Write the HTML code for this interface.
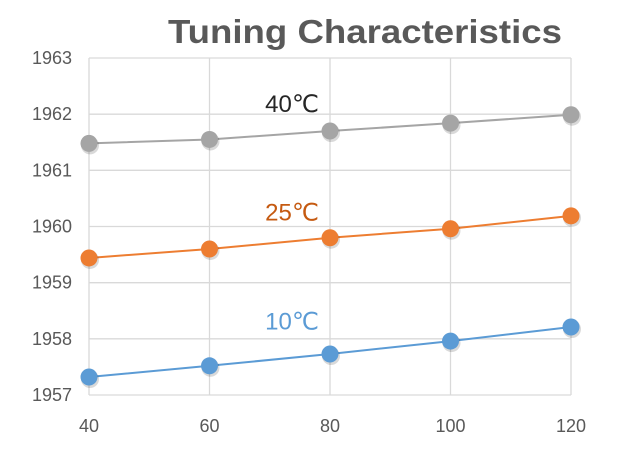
<!DOCTYPE html>
<html><head><meta charset="utf-8"><style>
html,body{margin:0;padding:0;background:#fff;}
svg{display:block;font-family:"Liberation Sans","DejaVu Sans",sans-serif;}
</style></head><body>
<svg id="chart" width="625" height="460" viewBox="0 0 625 460">
<text x="365" y="43" text-anchor="middle" font-size="33" font-weight="bold" fill="#595959" textLength="394" lengthAdjust="spacingAndGlyphs">Tuning Characteristics</text>
<g id="grid"></g>
<g id="axes"></g>
<g id="series"></g>
</svg>
<script>
const categories=[40,60,80,100,120];
const yTicks=[1957,1958,1959,1960,1961,1962,1963];
const s40=[1961.48,1961.55,1961.70,1961.84,1961.99];
const s25=[1959.44,1959.60,1959.80,1959.96,1960.19];
const s10=[1957.32,1957.52,1957.73,1957.96,1958.21];
const seriesNames=["40℃","25℃","10℃"];
const labelVals=[1962.2,1960.27,1958.33];

const NS="http://www.w3.org/2000/svg";
const X0=89,X1=571,Y0=395,Y1=58;
const xS=v=>X0+(v-40)/(120-40)*(X1-X0);
const yS=v=>Y0-(v-1957)/(1963-1957)*(Y0-Y1);
function mk(t,a,p){const e=document.createElementNS(NS,t);for(const k in a)e.setAttribute(k,a[k]);p.appendChild(e);return e;}
const grid=document.getElementById('grid'),axes=document.getElementById('axes'),ser=document.getElementById('series');
yTicks.forEach(v=>{
 const l=mk('line',{x1:X0,x2:X1,y1:yS(v),y2:yS(v),stroke:'#d9d9d9','stroke-width':1.3},grid);
 
 
 const t=mk('text',{x:72,y:yS(v)+6,'text-anchor':'end','font-size':18,fill:'#595959'},axes);
 t.textContent=v;
 
 
});
categories.forEach(c=>{
 const l=mk('line',{x1:xS(c),x2:xS(c),y1:Y1,y2:Y0,stroke:'#d9d9d9','stroke-width':1.3},grid);
 
 
 const t=mk('text',{x:xS(c),y:432,'text-anchor':'middle','font-size':18,fill:'#595959'},axes);
 t.textContent=c;
 
 
});
const data=[s40,s25,s10],cols=['#a5a5a5','#ed7d31','#5b9bd5'],lcols=['#262626','#c55a11','#5b9bd5'];
data.forEach((s,i)=>{
 const g=mk('g',{},ser);
 
 
 const pl=mk('polyline',{points:s.map((v,j)=>xS(categories[j])+','+yS(v)).join(' '),fill:'none',stroke:cols[i],'stroke-width':2},g);
 
 
 s.forEach((v,j)=>{
  const sh=mk('circle',{cx:xS(categories[j])+1,cy:yS(v)+2,r:9,fill:'rgba(0,0,0,0.15)'},g);
  
  
  const c=mk('circle',{cx:xS(categories[j]),cy:yS(v),r:8.5,fill:cols[i]},g);
  
  
 });
 const t=mk('text',{x:292,y:yS(labelVals[i])+9,'text-anchor':'middle','font-size':24,fill:lcols[i]},g);
 t.textContent=seriesNames[i];
 
 
});
</script>
</body></html>
